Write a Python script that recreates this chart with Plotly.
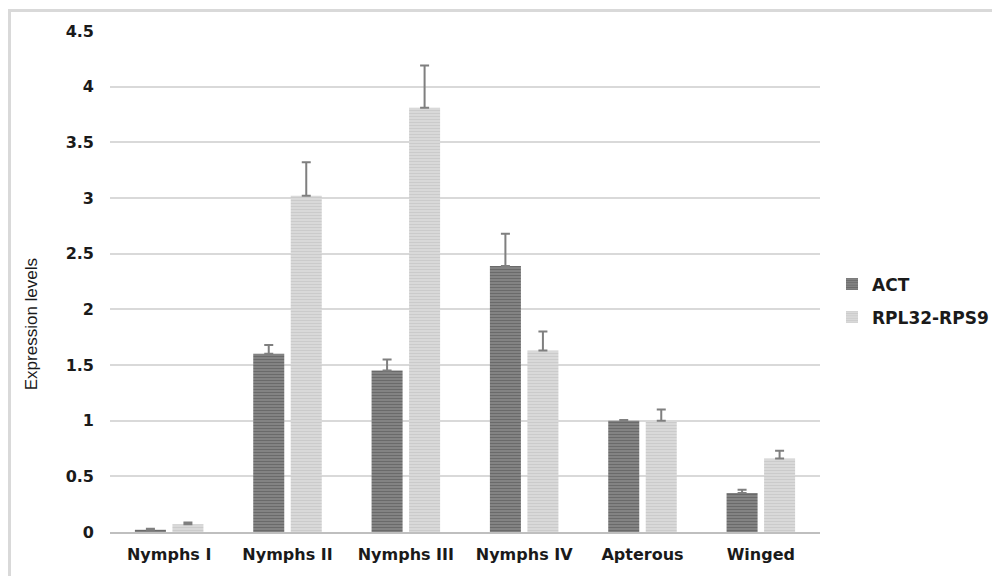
import plotly.graph_objects as go

categories = ["Nymphs I", "Nymphs II", "Nymphs III", "Nymphs IV", "Apterous", "Winged"]
act_values = [0.02, 1.60, 1.45, 2.39, 1.00, 0.35]
act_errors = [0.01, 0.08, 0.10, 0.29, 0.005, 0.03]
rpl_values = [0.07, 3.02, 3.81, 1.63, 1.00, 0.66]
rpl_errors = [0.015, 0.30, 0.38, 0.17, 0.10, 0.07]
y_ticks = [0, 0.5, 1, 1.5, 2, 2.5, 3, 3.5, 4, 4.5]
y_tick_labels = ["0", "0.5", "1", "1.5", "2", "2.5", "3", "3.5", "4", "4.5"]

fig = go.Figure()
fig.add_trace(go.Bar(
    name="ACT", x=categories, y=act_values, legendgroup="g1",
    marker=dict(color="#8a8a8a", line=dict(width=0),
                pattern=dict(shape="-", fgcolor="#4a4a4a", bgcolor="#8a8a8a", size=3, solidity=0.5)),
    error_y=dict(type="data", array=act_errors, symmetric=False, arrayminus=[0]*6,
                 color="#7f7f7f", thickness=2, width=4.5),
))
fig.add_trace(go.Bar(
    name="RPL32-RPS9", x=categories, y=rpl_values, legendgroup="g2",
    marker=dict(color="#dedede", line=dict(width=0),
                pattern=dict(shape="-", fgcolor="#b8b8b8", bgcolor="#dedede", size=3, solidity=0.5)),
    error_y=dict(type="data", array=rpl_errors, symmetric=False, arrayminus=[0]*6,
                 color="#7f7f7f", thickness=2, width=4.5),
))

# the page adds an 8px body margin; figure coordinates = page coordinates - 8
W, H = 1040, 568
L, R, T, B = 102, 228, 23, 41
pw, ph = W - L - R, H - T - B

fig.update_layout(
    width=W, height=H,
    margin=dict(l=L, r=R, t=T, b=B),
    paper_bgcolor="white", plot_bgcolor="white",
    font=dict(family="Liberation Sans, Arial, sans-serif", size=16, color="#1a1a1a"),
    barmode="group", bargap=0.366, bargroupgap=0.173,
    showlegend=True,
    legend=dict(x=(824 - L) / pw, y=(528 - 295.5) / ph, xanchor="left", yanchor="middle",
                font=dict(family="DejaVu Sans", size=17, color="#1a1a1a", weight="bold"),
                tracegroupgap=8, itemwidth=30, bgcolor="rgba(0,0,0,0)"),
    xaxis=dict(showgrid=False, showline=True, linecolor="#bfbfbf", linewidth=2.3,
               ticks="", ticklabelstandoff=7,
               tickfont=dict(family="DejaVu Sans", size=16, color="#1a1a1a", weight="bold")),
    yaxis=dict(range=[0, 4.5], tickvals=y_ticks, ticktext=y_tick_labels,
               showgrid=True, gridcolor="#d9d9d9", gridwidth=1.5, zeroline=False,
               showline=False, ticks="", ticklabelstandoff=15,
               tickfont=dict(family="DejaVu Sans", size=16, color="#1a1a1a", weight="bold")),
    annotations=[dict(text="Expression levels", textangle=-90, showarrow=False,
                      xref="paper", yref="paper",
                      x=(23 - L) / pw, y=(528 - 319) / ph,
                      xanchor="center", yanchor="middle",
                      font=dict(family="Liberation Sans, Arial, sans-serif", size=17, color="#1a1a1a"))],
    shapes=[dict(type="rect", xref="paper", yref="paper",
                 x0=(1.5 - L) / pw, x1=(1030 - L) / pw,
                 y0=(528 - 590) / ph, y1=(528 - 3.5) / ph,
                 line=dict(color="#d9d9d9", width=3), fillcolor="rgba(0,0,0,0)", layer="below")],
)

fig.write_html("out.html")
